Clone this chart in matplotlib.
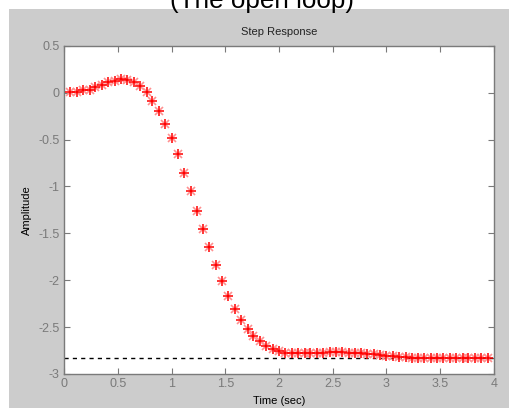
import matplotlib
matplotlib.use("Agg")
import matplotlib.pyplot as plt
from matplotlib.patches import Rectangle

plt.rcParams['font.family'] = ['Liberation Sans', 'DejaVu Sans']

# ---- data ----
time_s = [0.06, 0.12, 0.18, 0.24, 0.29, 0.35, 0.41, 0.47, 0.53, 0.59,
          0.65, 0.71, 0.77, 0.82, 0.88, 0.94, 1.00, 1.06, 1.12, 1.18,
          1.24, 1.29, 1.35, 1.41, 1.47, 1.53, 1.59, 1.65, 1.71, 1.76,
          1.82, 1.88, 1.94, 2.00, 2.06, 2.12, 2.18, 2.24, 2.29, 2.35,
          2.41, 2.47, 2.53, 2.59, 2.65, 2.71, 2.76, 2.82, 2.88, 2.94,
          3.00, 3.06, 3.12, 3.18, 3.24, 3.29, 3.35, 3.41, 3.47, 3.53,
          3.59, 3.65, 3.71, 3.76, 3.82, 3.88, 3.94]
amplitude = [0.01, 0.01, 0.025, 0.03, 0.06, 0.084, 0.11, 0.127, 0.142, 0.13,
             0.11, 0.07, 0.006, -0.086, -0.193, -0.335, -0.487, -0.658, -0.854, -1.049,
             -1.259, -1.454, -1.649, -1.835, -2.009, -2.168, -2.31, -2.42, -2.515, -2.59,
             -2.65, -2.70, -2.735, -2.76, -2.78, -2.78, -2.78, -2.78, -2.78, -2.78,
             -2.773, -2.769, -2.765, -2.769, -2.773, -2.78, -2.78, -2.787, -2.79, -2.794,
             -2.805, -2.808, -2.819, -2.822, -2.826, -2.828, -2.828, -2.828, -2.828, -2.828,
             -2.828, -2.828, -2.828, -2.828, -2.828, -2.828, -2.828]
final_value = -2.83
x_ticks = [0, 0.5, 1, 1.5, 2, 2.5, 3, 3.5, 4]
x_tick_labels = ['0', '0.5', '1', '1.5', '2', '2.5', '3', '3.5', '4']
y_ticks = [-3, -2.5, -2, -1.5, -1, -0.5, 0, 0.5]
y_tick_labels = ['-3', '-2.5', '-2', '-1.5', '-1', '-0.5', '0', '0.5']

W, H = 510, 408
fig = plt.figure(figsize=(W / 100, H / 100), dpi=100, facecolor='white')

# gray MATLAB figure window area (drawn behind everything)
fig.patches.append(Rectangle((9 / W, 0), 1 - 9 / W, 1 - 9 / H,
                             transform=fig.transFigure, facecolor='#cccccc',
                             edgecolor='none', zorder=-10))
fig.text(262 / W, 1 - 8 / H, '(The open loop)', ha='center', va='baseline',
         fontsize=18.7, color='black', zorder=5)

ax = fig.add_axes([64 / W, 1 - 374 / H, 430 / W, (374 - 45.7) / H])
ax.set_facecolor('white')

axis_gray = '#7a7a7a'
ax.axhline(final_value, color='black', linestyle=(0, (3, 3)), linewidth=1.0, zorder=2)
# MATLAB-style '*' marker: crisp '+' with pale diagonals
ax.plot(time_s, amplitude, linestyle='none', marker='x', markersize=5.5,
        markeredgewidth=1.2, color='#ff9090', zorder=3)
ax.plot(time_s, amplitude, linestyle='none', marker='+', markersize=7.5,
        markeredgewidth=1.1, color='#ff0000', zorder=4)

ax.set_xlim(0, 4)
ax.set_ylim(-3, 0.5)
ax.set_xticks(x_ticks)
ax.set_xticklabels(x_tick_labels)
ax.set_yticks(y_ticks)
ax.set_yticklabels(y_tick_labels)

ax.tick_params(direction='in', length=4, width=0.8, colors=axis_gray,
               labelsize=9, top=True, right=True, pad=3)
for s in ax.spines.values():
    s.set_color(axis_gray)
    s.set_linewidth(1.0)

ax.set_title('Step Response', fontsize=8, color='#222222', pad=8)
ax.set_xlabel('Time (sec)', fontsize=8, color='black', labelpad=4)
ax.set_ylabel('Amplitude', fontsize=8, color='black', labelpad=5)

fig.savefig('out.png', dpi=100, facecolor=fig.get_facecolor())
